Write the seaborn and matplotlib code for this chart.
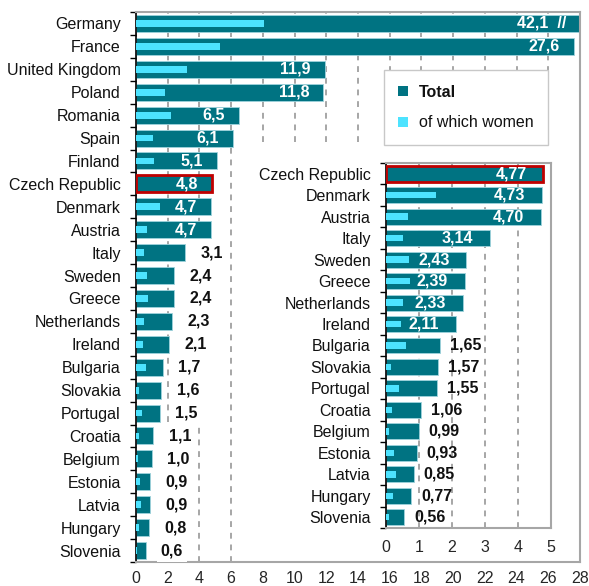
import numpy as np
import pandas as pd
import matplotlib
matplotlib.use("Agg")
import matplotlib.pyplot as plt
from matplotlib.patches import Patch, Rectangle
import seaborn as sns

# Countries, totals (one decimal) and women, overall view
countries = ["Germany", "France", "United Kingdom", "Poland", "Romania", "Spain",
             "Finland", "Czech Republic", "Denmark", "Austria", "Italy", "Sweden",
             "Greece", "Netherlands", "Ireland", "Bulgaria", "Slovakia", "Portugal",
             "Croatia", "Belgium", "Estonia", "Latvia", "Hungary", "Slovenia"]
totals = [42.1, 27.6, 11.9, 11.8, 6.5, 6.1, 5.1, 4.8, 4.7, 4.7, 3.1, 2.4,
          2.4, 2.3, 2.1, 1.7, 1.6, 1.5, 1.1, 1.0, 0.9, 0.9, 0.8, 0.6]
women_large = [8.05, 5.3, 3.2, 1.85, 2.2, 1.1, 1.15]

# Detailed view for the smaller countries (two decimals)
detail_countries = ["Czech Republic", "Denmark", "Austria", "Italy", "Sweden", "Greece",
                    "Netherlands", "Ireland", "Bulgaria", "Slovakia", "Portugal",
                    "Croatia", "Belgium", "Estonia", "Latvia", "Hungary", "Slovenia"]
detail_totals = [4.77, 4.73, 4.70, 3.14, 2.43, 2.39, 2.33, 2.11, 1.65, 1.57, 1.55,
                 1.06, 0.99, 0.93, 0.85, 0.77, 0.56]
detail_women = [0.63, 1.52, 0.68, 0.51, 0.71, 0.73, 0.51, 0.46, 0.60, 0.16, 0.40,
                0.19, 0.10, 0.25, 0.29, 0.20, 0.08]

women = women_large + detail_women
highlight = "Czech Republic"

TEAL = "#007382"
CYAN = "#4de3ff"
RED = "#c00000"
GRID = "#a6a6a6"
FRAME = "#a6a6a6"
FS = 11.5

sns.set_theme(style="white")
plt.rcParams["font.family"] = ["Liberation Sans", "DejaVu Sans"]
plt.rcParams["text.color"] = "#111111"


def fmt(v, nd):
    return f"{v:.{nd}f}".replace(".", ",")


fig = plt.figure(figsize=(5.89, 5.86), dpi=100)
W, H = 589, 586
ax = fig.add_axes([136 / W, 1 - 562 / H, (580 - 136) / W, (562 - 12) / H])
ins = fig.add_axes([386 / W, 1 - 528 / H, (551 - 386) / W, (528 - 163) / H])

main_df = pd.DataFrame({"country": countries, "total": totals, "women": women})
det_df = pd.DataFrame({"country": detail_countries, "total": detail_totals,
                       "women": detail_women})


def draw_bars(a, df):
    sns.barplot(data=df, x="total", y="country", color=TEAL, saturation=1,
                width=0.74, edgecolor="#9fd3dc", linewidth=0.6, ax=a, zorder=2)
    sns.barplot(data=df, x="women", y="country", color=CYAN, saturation=1,
                width=0.30, linewidth=0, ax=a, zorder=3)
    idx = list(df["country"]).index(highlight)
    bar = a.containers[0][idx]
    bar.set_edgecolor(RED)
    bar.set_linewidth(2.0)
    bar.set_zorder(4)
    a.set_xlabel("")
    a.set_ylabel("")
    n = len(df)
    a.set_ylim(n - 0.5, -0.5)
    a.set_yticks(np.arange(-0.5, n, 1.0), minor=True)
    a.tick_params(axis="y", which="major", length=0, labelsize=FS, pad=11)
    a.tick_params(axis="y", which="minor", length=4, width=1, color="black",
                  direction="out", left=True)
    a.set_axisbelow(True)
    a.xaxis.grid(True, linestyle=(0, (3, 3)), color=GRID, linewidth=1.4)
    a.yaxis.grid(False)
    for s in ["top", "right", "bottom"]:
        a.spines[s].set_color(FRAME)
        a.spines[s].set_linewidth(1.5)
    a.spines["left"].set_color("black")
    a.spines["left"].set_linewidth(1.2)
    for lab in a.get_yticklabels():
        lab.set_color("#111111")


# Overall chart
draw_bars(ax, main_df)
ax.set_xlim(0, 28)
ax.set_xticks(np.arange(0, 29, 2))
ax.tick_params(axis="x", length=0, labelsize=FS, pad=6.5)
for i, v in enumerate(totals):
    if v >= 4.7:
        txt = fmt(v, 1) + ("  //" if v > 28 else "")
        ax.annotate(txt, xy=(min(v, 28), i), xytext=(-10, 0), textcoords="offset points",
                    ha="right", va="center", color="white", fontweight="bold",
                    fontsize=FS, zorder=5)
    else:
        ax.annotate(fmt(v, 1), xy=(v, i), xytext=(11, 0), textcoords="offset points",
                    ha="left", va="center", color="#111111", fontweight="bold",
                    fontsize=FS, zorder=5,
                    bbox=dict(boxstyle="square,pad=0.25", fc="white", ec="none"))

# White panel behind the detailed view
ax.add_patch(Rectangle(((248 - 136) / 444, 0.002), 1 - (248 - 136) / 444 - 0.003,
                       (562 - 148) / 550, transform=ax.transAxes, facecolor="white",
                       edgecolor="none", zorder=1.5))

# Detailed chart
draw_bars(ins, det_df)
ins.set_xlim(0, 5)
ins.set_xticks(np.arange(0, 6, 1))
ins.tick_params(axis="x", length=0, labelsize=FS, pad=8.5)
for i, v in enumerate(detail_totals):
    if v >= 2.0:
        ins.annotate(fmt(v, 2), xy=(v, i), xytext=(-12, 0), textcoords="offset points",
                     ha="right", va="center", color="white", fontweight="bold",
                     fontsize=FS, zorder=5)
    else:
        ins.annotate(fmt(v, 2), xy=(v, i), xytext=(7, 0), textcoords="offset points",
                     ha="left", va="center", color="#111111", fontweight="bold",
                     fontsize=FS, zorder=5)

# Legend
handles = [Patch(facecolor=TEAL, edgecolor="none"), Patch(facecolor=CYAN, edgecolor="none")]
leg = fig.legend(handles, ["Total", "of which women"], loc="center",
                 bbox_to_anchor=((384 + 548) / 2 / W, 1 - (78 + 137) / 2 / H),
                 fontsize=FS, frameon=True, fancybox=False, framealpha=1,
                 edgecolor="#c8c8c8", handlelength=0.6, handleheight=0.6,
                 handletextpad=0.7, labelspacing=1.0, borderpad=0.9)
leg.get_frame().set_linewidth(1.0)
leg.get_texts()[0].set_fontweight("bold")

fig.savefig("out.png", dpi=100, facecolor="white")
